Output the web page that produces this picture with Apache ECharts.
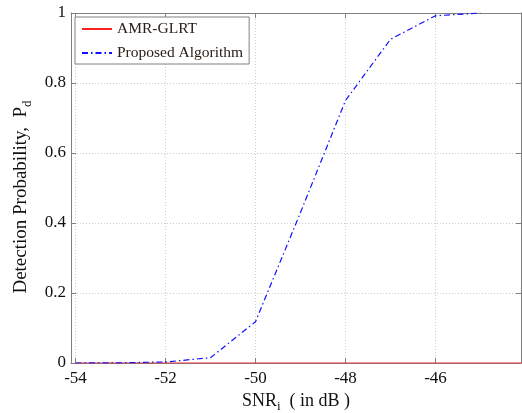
<!DOCTYPE html>
<html>
<head>
<meta charset="utf-8">
<script src="https://cdn.jsdelivr.net/npm/echarts@6/dist/echarts.min.js"></script>
<style>
  html, body { margin: 0; padding: 0; background: #fff; }
  #chart { width: 522px; height: 413px; }
</style>
</head>
<body>
<div id="chart"></div>
<script>
// SNR (dB) sample points and detection probabilities
const snrProposed = [-54, -53, -52, -51, -50, -49, -48, -47, -46, -45];
const pdProposed  = [0, 0.0005, 0.003, 0.015, 0.118, 0.43, 0.75, 0.925, 0.992, 1.0];
const snrGlrt = [-54, -53, -52, -51, -50, -49, -48, -47, -46, -45, -44];
const pdGlrt  = [0, 0, 0, 0, 0, 0, 0, 0, 0, 0, 0];

const xTicks = [-54, -52, -50, -48, -46];
const seriesNames = ['AMR-GLRT', 'Proposed Algorithm'];

const font = 'Liberation Serif';
const boxColor = '#808080';

const pairs = (xs, ys) => xs.map((x, i) => [x, ys[i]]);

const chart = echarts.init(document.getElementById('chart'), null, { renderer: 'canvas' });

const baseX = {
  type: 'value', min: -54.1, max: -44.1,
  axisLine: { show: true, onZero: false, lineStyle: { color: boxColor, width: 1 } },
  axisTick: { show: true, inside: true, length: 5, customValues: xTicks, lineStyle: { color: boxColor } },
  splitLine: { show: false }
};
const baseY = {
  type: 'value', min: 0, max: 1, interval: 0.2,
  axisLine: { show: true, onZero: false, lineStyle: { color: boxColor, width: 1 } },
  axisTick: { show: true, inside: true, length: 5, lineStyle: { color: boxColor } },
  splitLine: { show: false }
};

chart.setOption({
  animation: false,
  backgroundColor: '#fff',
  grid: { left: 71, right: 1, top: 13, bottom: 50, containLabel: false, outerBoundsMode: 'none' },
  legend: {
    left: 75, top: 17,
    orient: 'vertical',
    data: seriesNames,
    backgroundColor: '#fff',
    borderColor: '#808080', borderWidth: 1, borderRadius: 0,
    padding: [4, 6, 3, 6],
    itemWidth: 30, itemHeight: 10, itemGap: 8,
    itemStyle: { opacity: 0 },
    textStyle: { fontFamily: font, fontSize: 15.5, color: '#2a2018' }
  },
  xAxis: [
    Object.assign({}, baseX, {
      position: 'bottom',
      name: '{m|SNR}{s|i}{m|  ( in dB )}',
      nameLocation: 'middle', nameGap: 24,
      nameTextStyle: {
        rich: {
          m: { fontFamily: font, fontSize: 18, color: '#111' },
          s: { fontFamily: font, fontSize: 13, color: '#111', verticalAlign: 'bottom', padding: [12, 0, 0, 0] }
        }
      },
      axisLabel: { show: true, customValues: xTicks, margin: 7, fontFamily: font, fontSize: 17, color: '#111',
        formatter: v => String(v) },
      splitLine: { show: true, lineStyle: { color: '#cccccc', type: [1, 2], width: 1 } }
    }),
    Object.assign({}, baseX, { position: 'top', axisLabel: { show: false } })
  ],
  yAxis: [
    Object.assign({}, baseY, {
      position: 'left',
      name: '{m|Detection Probability,  P}{s|d}',
      nameLocation: 'middle', nameGap: 35, nameRotate: 90,
      nameTextStyle: {
        rich: {
          m: { fontFamily: font, fontSize: 19, color: '#111' },
          s: { fontFamily: font, fontSize: 13, color: '#111', padding: [13, 18, 0, 0] }
        }
      },
      axisLabel: { show: true, margin: 5, fontFamily: font, fontSize: 17, color: '#111',
        formatter: v => (v === 0 || v === 1) ? String(v) : v.toFixed(1) },
      splitLine: { show: true, lineStyle: { color: '#cccccc', type: [1, 2], width: 1 } }
    }),
    Object.assign({}, baseY, { position: 'right', axisLabel: { show: false } })
  ],
  series: [
    {
      name: seriesNames[0], type: 'line', xAxisIndex: 0, yAxisIndex: 0,
      data: pairs(snrGlrt, pdGlrt),
      symbol: 'none', clip: true,
      lineStyle: { color: '#ff2020', width: 1.2, type: 'solid' },
      itemStyle: { color: '#ff2020' }
    },
    {
      name: seriesNames[1], type: 'line', xAxisIndex: 0, yAxisIndex: 0,
      data: pairs(snrProposed, pdProposed),
      symbol: 'none', clip: true,
      lineStyle: { color: '#1010ff', width: 1.2, type: [6, 3, 1.5, 3] },
      itemStyle: { color: '#1010ff' }
    }
  ]
});
</script>
</body>
</html>
